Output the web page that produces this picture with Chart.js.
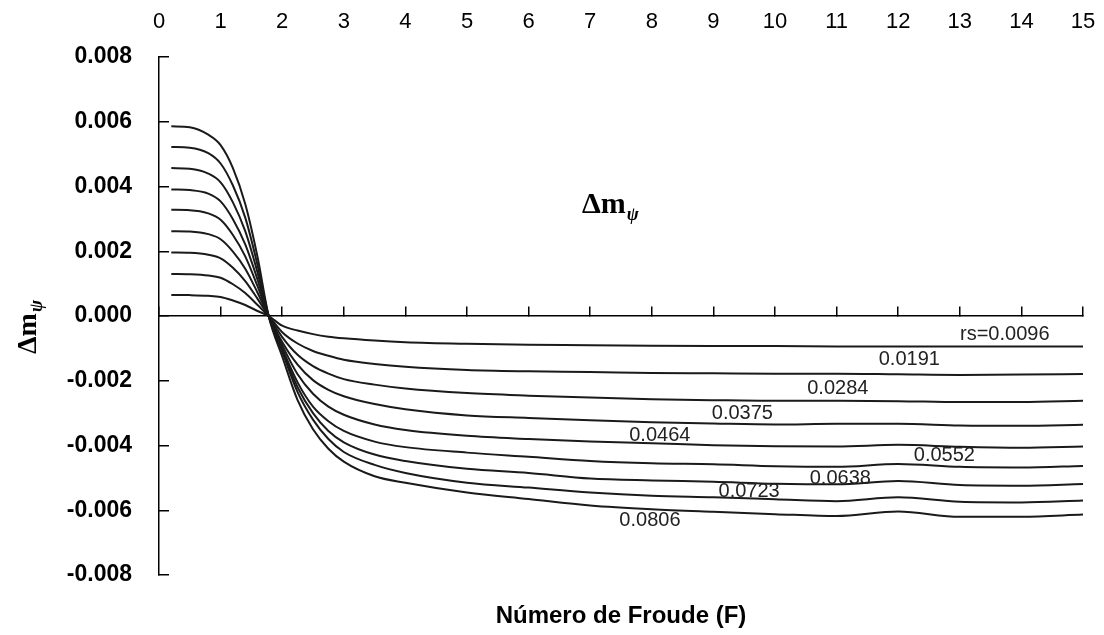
<!DOCTYPE html>
<html>
<head>
<meta charset="utf-8">
<script src="https://cdn.jsdelivr.net/npm/chart.js@4.4.1/dist/chart.umd.min.js"></script>
<style>
html,body{margin:0;padding:0;background:#fff;}
#wrap{width:1104px;height:635px;}
</style>
</head>
<body>
<div id="wrap"><canvas id="c" width="1104" height="635"></canvas></div>
<script>
// Froude number sample positions
const froude = [0.2, 0.5, 0.8, 1.0, 1.2, 1.4, 1.6, 1.78, 2.0, 2.25, 2.5, 2.75, 3.0, 3.5, 4.0, 5.0, 6.0, 7.0, 8.0, 9.0, 10.0, 11.0, 12.0, 13.0, 14.0, 15.0];

// Δmψ for each rs
const rs0096 = [0.00065,0.000645,0.000625,0.00059,0.00048,0.00034,0.000155,0,-0.00030,-0.00045,-0.00056,-0.00064,-0.00069,-0.00076,-0.00081,-0.00086,-0.00089,-0.00090,-0.00092,-0.00093,-0.00093,-0.00094,-0.00094,-0.00094,-0.00094,-0.00094];
const rs0191 = [0.00130,0.00129,0.00125,0.00118,0.00098,0.00071,0.00034,0,-0.00050,-0.00085,-0.00108,-0.00123,-0.00135,-0.00148,-0.00157,-0.00167,-0.00171,-0.00173,-0.00176,-0.00177,-0.00178,-0.00178,-0.00180,-0.00182,-0.00181,-0.00179];
const rs0284 = [0.00196,0.00195,0.00189,0.00178,0.00149,0.00108,0.00053,0,-0.00065,-0.00120,-0.00155,-0.00178,-0.00195,-0.00212,-0.00224,-0.00238,-0.00246,-0.00252,-0.00257,-0.00260,-0.00262,-0.00262,-0.00263,-0.00266,-0.00266,-0.00262];
const rs0375 = [0.00262,0.00261,0.00253,0.00237,0.00199,0.00146,0.00072,0,-0.00080,-0.00150,-0.00198,-0.00228,-0.00248,-0.00272,-0.00288,-0.00307,-0.00315,-0.00322,-0.00328,-0.00332,-0.00335,-0.00333,-0.00333,-0.00338,-0.00339,-0.00336];
const rs0464 = [0.00328,0.00327,0.00317,0.00297,0.00250,0.00184,0.00092,0,-0.00090,-0.00180,-0.00240,-0.00280,-0.00305,-0.00335,-0.00352,-0.00370,-0.00380,-0.00388,-0.00393,-0.00399,-0.00402,-0.00403,-0.00398,-0.00404,-0.00407,-0.00403];
const rs0552 = [0.00391,0.00389,0.00378,0.00354,0.00299,0.00221,0.00112,0,-0.00100,-0.00205,-0.00280,-0.00325,-0.00355,-0.00388,-0.00405,-0.00422,-0.00435,-0.00448,-0.00455,-0.00458,-0.00464,-0.00466,-0.00457,-0.00466,-0.00468,-0.00463];
const rs0638 = [0.00457,0.00455,0.00440,0.00413,0.00351,0.00262,0.00134,0,-0.00105,-0.00220,-0.00300,-0.00355,-0.00390,-0.00428,-0.00448,-0.00472,-0.00485,-0.00502,-0.00508,-0.00512,-0.00518,-0.00520,-0.00510,-0.00522,-0.00524,-0.00519];
const rs0723 = [0.00522,0.00520,0.00503,0.00471,0.00403,0.00304,0.00157,0,-0.00110,-0.00235,-0.00320,-0.00380,-0.00420,-0.00460,-0.00485,-0.00515,-0.00530,-0.00545,-0.00555,-0.00560,-0.00566,-0.00572,-0.00560,-0.00574,-0.00576,-0.00570];
const rs0806 = [0.00586,0.00583,0.00560,0.00528,0.00457,0.00346,0.00182,0,-0.00125,-0.00260,-0.00350,-0.00410,-0.00450,-0.00495,-0.00515,-0.00545,-0.00565,-0.00585,-0.00597,-0.00605,-0.00612,-0.00618,-0.00604,-0.00620,-0.00620,-0.00613];

const seriesList = [rs0096, rs0191, rs0284, rs0375, rs0464, rs0552, rs0638, rs0723, rs0806];

// curve labels (text, Froude position, Δm position)
const labelTexts = ['rs=0.0096','0.0191','0.0284','0.0375','0.0464','0.0552','0.0638','0.0723','0.0806'];
const labelF     = [13.73, 12.18, 11.02, 9.47, 8.13, 12.75, 11.06, 9.58, 7.97];
const labelDm    = [-0.00058, -0.00133, -0.00223, -0.00300, -0.00370, -0.00432, -0.00501, -0.00542, -0.00631];

// axis ticks
const xMin = 0, xMax = 15, xStep = 1;
const yMin = -0.008, yMax = 0.008, yStep = 0.002;

const datasets = seriesList.map(vals => ({
  data: froude.map((f, i) => ({x: f, y: vals[i]})),
  borderColor: '#1a1a1a',
  borderWidth: 2,
  pointRadius: 0,
  fill: false,
  cubicInterpolationMode: 'monotone',
  xAxisID: 'x',
  yAxisID: 'y'
}));

const textPlugin = {
  id: 'texts',
  afterDraw(chart) {
    const ctx = chart.ctx;
    const xs = chart.scales.x, ys = chart.scales.y;
    ctx.save();
    // curve labels
    ctx.fillStyle = '#222';
    ctx.font = '20px "Liberation Sans", Arial, sans-serif';
    ctx.textAlign = 'center';
    ctx.textBaseline = 'middle';
    labelTexts.forEach((t, i) => {
      ctx.fillText(t, xs.getPixelForValue(labelF[i]), ys.getPixelForValue(labelDm[i]));
    });
    // x axis title
    ctx.fillStyle = '#000';
    ctx.font = 'bold 24px "Liberation Sans", Arial, sans-serif';
    ctx.fillText('Número de Froude (F)', (chart.chartArea.left + chart.chartArea.right) / 2, 616);
    // inner title Δmψ
    ctx.textAlign = 'left';
    ctx.textBaseline = 'alphabetic';
    ctx.font = 'bold 30px "Liberation Serif", "Times New Roman", serif';
    ctx.fillText('Δm', 582, 213);
    const w = ctx.measureText('Δm').width;
    ctx.font = 'bold italic 18px "Liberation Serif", "Times New Roman", serif';
    ctx.fillText('ψ', 582 + w + 1, 220);
    // y axis title (rotated)
    ctx.translate(36, 354);
    ctx.rotate(-Math.PI / 2);
    ctx.font = 'bold 28px "Liberation Serif", "Times New Roman", serif';
    ctx.fillText('Δm', 0, 0);
    const w2 = ctx.measureText('Δm').width;
    ctx.font = 'bold italic 18px "Liberation Serif", "Times New Roman", serif';
    ctx.fillText('ψ', w2 + 1, 6);
    ctx.restore();
  }
};

new Chart(document.getElementById('c'), {
  type: 'line',
  data: { datasets },
  options: {
    responsive: false,
    animation: false,
    layout: { padding: { left: 0, right: 21, top: 0, bottom: 60 } },
    plugins: { legend: { display: false }, tooltip: { enabled: false }, title: { display: false } },
    scales: {
      x: {
        type: 'linear', position: 'top', min: xMin, max: xMax,
        grid: { display: false, drawTicks: false },
        border: { display: false },
        ticks: { stepSize: xStep, autoSkip: false, maxRotation: 0, padding: 22, color: '#000',
                 font: { family: '"Liberation Sans", Arial, sans-serif', size: 22 } },
        afterFit(s) { s.height = 57; s.paddingLeft = 0; s.paddingRight = 0; }
      },
      x0: {
        type: 'linear', position: { y: 0 }, min: xMin, max: xMax,
        grid: { display: true, drawOnChartArea: false, drawTicks: true, tickLength: -10, color: '#000', lineWidth: 1.5 },
        border: { display: true, color: '#000', width: 1.5 },
        ticks: { display: false, stepSize: xStep, autoSkip: false },
        afterFit(s) { s.height = 0; s.paddingLeft = 0; s.paddingRight = 0; }
      },
      y: {
        type: 'linear', position: 'left', min: yMin, max: yMax,
        grid: { display: true, drawOnChartArea: false, drawTicks: true, tickLength: -10, color: '#000', lineWidth: 1.5 },
        border: { display: true, color: '#000', width: 1.5 },
        ticks: { stepSize: yStep, padding: 37, color: '#000',
                 font: { family: '"Liberation Sans", Arial, sans-serif', size: 23, weight: 'bold' },
                 callback: v => (Math.abs(v) < 1e-9 ? 0 : v).toFixed(3) },
        afterFit(s) { s.width = 159; s.paddingTop = 0; s.paddingBottom = 0; }
      }
    }
  },
  plugins: [textPlugin]
});
</script>
</body>
</html>
